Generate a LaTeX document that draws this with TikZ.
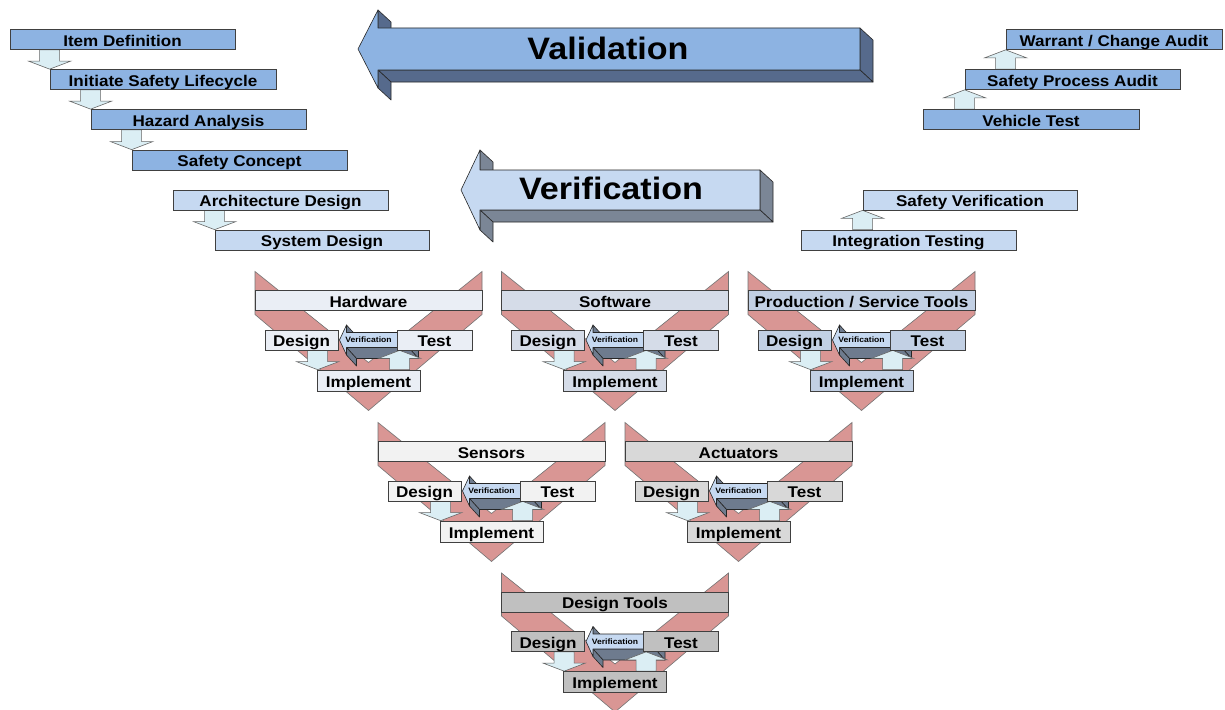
\documentclass[tikz,border=0pt]{standalone}
\usepackage{fontspec}
\setmainfont{Liberation Sans}[FakeStretch=1.1]
\usetikzlibrary{calc}
\pgfdeclarelayer{canvas}
\pgfdeclarelayer{back}
\pgfdeclarelayer{mid}
\pgfsetlayers{canvas,back,mid,main}

\definecolor{phaseblue}{HTML}{8DB3E2}
\definecolor{paleblue}{HTML}{C6D9F1}
\definecolor{flowcyan}{HTML}{DBEEF4}
\definecolor{chevpink}{HTML}{D99694}
\definecolor{valside}{HTML}{566A8C}
\definecolor{verside}{HTML}{7B8696}
\definecolor{modside}{HTML}{6E7B8E}
\definecolor{hwfill}{HTML}{EAEEF5}
\definecolor{swfill}{HTML}{D5DCE8}
\definecolor{ptfill}{HTML}{C2D0E4}
\definecolor{snfill}{HTML}{F2F2F2}
\definecolor{acfill}{HTML}{D8D8D8}
\definecolor{dtfill}{HTML}{C0C0C0}

\tikzset{
  lab/.style={font=\fontsize{15.5}{17}\selectfont\bfseries},
  box/.style={draw=black!75, line width=0.7pt, inner sep=0pt, minimum height=20pt,
    text height=13.5pt, text depth=0pt, lab},
  tinylab/.style={font=\fontsize{7.8}{9}\selectfont\bfseries, inner sep=0pt},
  biglab/.style={font=\fontsize{31}{34}\selectfont\bfseries, inner sep=0pt},
  flowarrow/.style={draw=black!60, line width=0.6pt, fill=flowcyan},
  chevron/.style={draw=black!55, line width=0.6pt, fill=chevpink},
  solidedge/.style={draw=black!85, line width=0.6pt, line join=round},
}

% 3-D block arrow pointing left: tip x, axis y, head back x, head half height,
% shaft half height, tail x, face colour, side colour; depth is (\adx,\ady)
\newcommand\solidarrow[8]{%
  \filldraw[solidedge, fill=#8] (#3,#2-#4) -- (#3,#2-#5) -- (#3+\adx,#2-#5+\ady) -- (#3+\adx,#2-#4+\ady) -- cycle;
  \filldraw[solidedge, fill=#8] (#6,#2-#5) -- (#6,#2+#5) -- (#6+\adx,#2+#5+\ady) -- (#6+\adx,#2-#5+\ady) -- cycle;
  \filldraw[solidedge, fill=#8] (#6,#2+#5) -- (#3,#2+#5) -- (#3+\adx,#2+#5+\ady) -- (#6+\adx,#2+#5+\ady) -- cycle;
  \filldraw[solidedge, fill=#8] (#3,#2+#5) -- (#3,#2+#4) -- (#3+\adx,#2+#4+\ady) -- (#3+\adx,#2+#5+\ady) -- cycle;
  \filldraw[solidedge, fill=#7] (#1,#2) -- (#3,#2-#4) -- (#3,#2-#5) -- (#6,#2-#5) -- (#6,#2+#5)
     -- (#3,#2+#5) -- (#3,#2+#4) -- cycle;}

% flow arrows between boxes: [x offset]{x reference}{from}{to}
\newcommand\downblock[4][0]{%
  \filldraw[flowarrow] let \p1=(#2), \p2=(#3), \p3=(#4) in
    (\x1+#1pt-10pt,\y2) -- (\x1+#1pt-10pt,\y3+8pt) -- (\x1+#1pt-21pt,\y3+8pt) -- (\x1+#1pt,\y3)
    -- (\x1+#1pt+21pt,\y3+8pt) -- (\x1+#1pt+10pt,\y3+8pt) -- (\x1+#1pt+10pt,\y2) -- cycle;}
\newcommand\upblock[4][0]{%
  \filldraw[flowarrow] let \p1=(#2), \p2=(#3), \p3=(#4) in
    (\x1+#1pt-10pt,\y2) -- (\x1+#1pt-10pt,\y3-8pt) -- (\x1+#1pt-21pt,\y3-8pt) -- (\x1+#1pt,\y3)
    -- (\x1+#1pt+21pt,\y3-8pt) -- (\x1+#1pt+10pt,\y3-8pt) -- (\x1+#1pt+10pt,\y2) -- cycle;}

% one V-cycle: name, centre x, bar y, fill colour, title
\newcommand\vmodule[5]{%
  \begin{pgfonlayer}{back}
    \filldraw[chevron] (#2-113.5,#3-29) -- (#2,#3+62) -- (#2+113.5,#3-29) -- (#2+113.5,#3+14)
      -- (#2,#3+110) -- (#2-113.5,#3+14) -- cycle;
    \node[box, fill=#4, minimum width=227pt] (#1bar) at (#2,#3) {#5};
    \def\adx{10}\def\ady{11}%
    \solidarrow{#2-29}{#3+39.5}{#2-22}{15}{7.5}{#2+40}{paleblue}{modside}
    \node[tinylab] (#1ver) at (#2,#3+39.5) {Verification};
  \end{pgfonlayer}
  \node[box, fill=#4, minimum width=73pt] (#1design) at (#2-67,#3+39.5) {Design};
  \node[box, fill=#4, minimum width=75pt] (#1test) at (#2+66,#3+39.5) {Test};
  \node[box, fill=#4, minimum width=103pt, minimum height=21pt] (#1impl) at (#2,#3+80) {Implement};
  \begin{pgfonlayer}{mid}
    \downblock[1]{#1impl.west}{#1design.south}{#1impl.north}
    \upblock[3]{#1test.west}{#1impl.north}{#1test.south}
  \end{pgfonlayer}}

\begin{document}
\begin{tikzpicture}[x=1pt, y=-1pt]
  \begin{pgfonlayer}{canvas}
    \fill[white] (0,0) rectangle (1225,709);
  \end{pgfonlayer}
  \useasboundingbox (0,0) rectangle (1225,709);

  % big validation / verification arrows
  \def\adx{13}\def\ady{12}
  \solidarrow{358}{49}{378}{39}{21}{860}{phaseblue}{valside}
  \node[biglab] (valtext) at (608,48) {Validation};
  \solidarrow{461}{190}{480}{40}{20}{760}{paleblue}{verside}
  \node[biglab] (vertext) at (611,188) {Verification};

  % left-hand descending steps
  \node[box, fill=phaseblue, minimum width=225pt] (itemdef) at (122.5,39.5) {Item Definition};
  \node[box, fill=phaseblue, minimum width=226pt] (initiate) at (163,79.5) {Initiate Safety Lifecycle};
  \node[box, fill=phaseblue, minimum width=215pt] (hazard) at (198.5,119.5) {Hazard Analysis};
  \node[box, fill=phaseblue, minimum width=215pt] (concept) at (239.5,160) {Safety Concept};
  \node[box, fill=paleblue, minimum width=215pt] (arch) at (280.5,200) {Architecture Design};
  \node[box, fill=paleblue, minimum width=214pt] (sysdes) at (322,240) {System Design};

  % right-hand ascending steps
  \node[box, fill=phaseblue, minimum width=216pt] (warrant) at (1114,39.5) {Warrant / Change Audit};
  \node[box, fill=phaseblue, minimum width=215pt] (procaudit) at (1072.5,79.5) {Safety Process Audit};
  \node[box, fill=phaseblue, minimum width=216pt] (vehicle) at (1031,119.5) {Vehicle Test};
  \node[box, fill=paleblue, minimum width=214pt] (safever) at (970,200) {Safety Verification};
  \node[box, fill=paleblue, minimum width=215pt] (integ) at (908.5,240) {Integration Testing};

  \begin{pgfonlayer}{mid}
    \downblock{initiate.west}{itemdef.south}{initiate.north}
    \downblock{hazard.west}{initiate.south}{hazard.north}
    \downblock{concept.west}{hazard.south}{concept.north}
    \downblock{sysdes.west}{arch.south}{sysdes.north}
    \upblock{procaudit.west}{vehicle.north}{procaudit.south}
    \upblock{warrant.west}{procaudit.north}{warrant.south}
    \upblock{safever.west}{integ.north}{safever.south}
  \end{pgfonlayer}

  % V-cycles of the subsystems
  \vmodule{hw}{368.5}{300.5}{hwfill}{Hardware}
  \vmodule{sw}{615}{300.5}{swfill}{Software}
  \vmodule{pt}{861.5}{300.5}{ptfill}{Production / Service Tools}
  \vmodule{sn}{491.5}{451.5}{snfill}{Sensors}
  \vmodule{ac}{738.5}{451.5}{acfill}{Actuators}
  \vmodule{dt}{615}{602}{dtfill}{Design Tools}
\end{tikzpicture}
\end{document}
